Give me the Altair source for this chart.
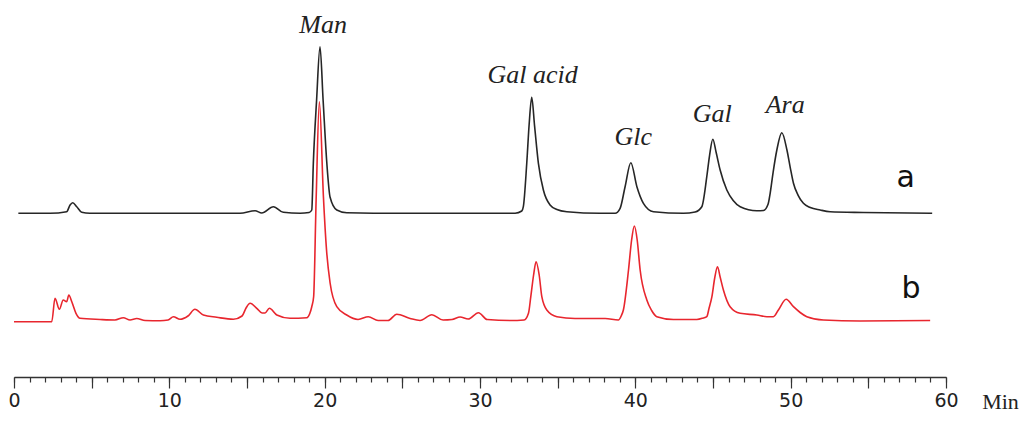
import altair as alt
import pandas as pd

# ---- trace a (black, standards) : retention time (min) and signal ----
a_time = [0.28, 2.32, 3.39, 3.61, 3.78, 4.04, 4.36, 4.89, 14.55, 15.52, 15.95, 16.70, 17.34,
          18.42, 19.00, 19.17, 19.27, 19.48, 19.70, 19.90, 20.14, 20.35, 20.78, 21.42, 24.86,
          32.26, 32.69, 32.79, 33.01, 33.16, 33.33, 33.51, 33.76, 34.08, 34.51, 34.95, 35.59, 37.73,
          38.70, 39.02, 39.34, 39.71, 40.10, 40.52, 41.17, 43.10, 43.85,
          44.28, 44.60, 44.78, 44.99, 45.20, 45.46, 45.89, 46.30, 46.75, 47.82, 48.25,
          48.55, 48.68, 48.87, 49.11, 49.43, 49.76, 49.97, 50.18, 50.48, 50.82, 51.26, 51.90,
          52.54, 54.67, 59.11]
a_signal = [0, 0, 1.6, 8.3, 10.6, 6.6, 1.0, 0, 0, 2.6, 0.3, 6.6, 1.0,
            0, 0.8, 3.3, 50, 113, 166.6, 113, 50, 16, 3.3, 0.6, 0,
            0, 2.3, 6.6, 50, 88, 116, 88, 50, 23.3, 8.3, 3.8, 1.6, 0,
            0, 5, 26.6, 50.6, 26.6, 10, 1.6, 0, 1.3,
            6.6, 36.6, 58, 74, 61, 43.3, 23.3, 12.8, 6.6, 2.6, 2.8,
            9.3, 20, 41, 63.3, 80.6, 63.3, 46, 30, 18, 10, 5.8, 3.3,
            1.6, 0.8, 0]

# ---- trace b (red, sample) ----
b_time = [0.0, 2.43, 2.64, 2.92, 3.17, 3.39, 3.53, 3.72, 3.99, 4.25, 5.54, 6.50, 7.04, 7.47,
          7.90, 8.44, 9.40, 9.92, 10.26, 10.69, 11.20, 11.65, 12.19, 13.05, 14.12, 14.68, 14.94,
          15.20, 15.63, 15.97, 16.16, 16.44, 16.92, 17.77, 18.85, 19.03, 19.17, 19.29, 19.45,
          19.66, 19.92, 20.12, 20.35, 20.78, 21.42, 22.15, 22.81, 23.44, 24.08, 24.64, 25.50,
          26.14, 26.90, 27.62, 28.20, 28.72, 29.24, 29.90, 30.46, 31.94, 32.84, 33.12, 33.27,
          33.45, 33.61, 33.81, 33.98, 34.30, 34.95, 36.12, 38.06, 38.91, 39.09, 39.23, 39.56,
          39.76, 39.94, 40.12, 40.31, 40.74, 41.05, 41.38, 42.45, 43.96, 44.37, 44.60, 44.75,
          44.93, 45.11, 45.29, 45.46, 45.67, 46.10, 46.75, 47.82, 48.47, 48.89, 49.21, 49.71,
          50.18, 50.61, 51.04, 52.11, 54.47, 58.98]
b_signal = [0, 0, 23.4, 12.4, 21.7, 20, 26.7, 20, 8.4, 3.4, 2.2, 1.7, 4, 1.7,
            3.2, 1.2, 1, 1.7, 5, 2.4, 5.7, 12.4, 6.7, 4.4, 2.4, 5.7, 13.7,
            18.4, 13.4, 8.7, 8.7, 13.4, 6.7, 3.4, 4, 7.7, 15, 25, 121.7,
            220, 125, 71.7, 38.7, 15, 6.7, 2.2, 5, 1.2, 1.2, 7.4, 3.2,
            1.2, 7, 1.7, 2.2, 4.7, 2.7, 9, 2.2, 1.2, 1.7, 8.4, 25,
            46.7, 60, 46.7, 25, 11.7, 5, 3.2, 3.2, 1.7, 5.7, 11.7, 51.7,
            81.7, 95.7, 81.7, 51.7, 21.7, 11.2, 5, 2.2, 2.2, 3.7, 5, 13.7,
            25, 43.7, 55, 44.7, 31.7, 15, 8.4, 6.7, 5, 5, 11.7, 22.4,
            15, 9.2, 5, 1.7, 0.7, 1.2]

# ---- annotations ----
peak_names = ["Man", "Gal acid", "Glc", "Gal", "Ara"]
peak_label_time = [19.9, 33.39, 39.86, 44.95, 49.65]
peak_label_level = [288.7, 238.7, 176.7, 199.7, 208.7]

trace_names = ["a", "b"]
trace_label_time = [57.4, 57.75]
trace_label_level = [134.7, 23.7]

A_OFFSET = 108.4  # vertical stacking offset of trace a

df_a = pd.DataFrame({"t": a_time, "y": [v + A_OFFSET for v in a_signal]})
df_b = pd.DataFrame({"t": b_time, "y": b_signal})
df_peaks = pd.DataFrame({"t": peak_label_time, "y": peak_label_level, "name": peak_names})
df_traces = pd.DataFrame({"t": trace_label_time, "y": trace_label_level, "name": trace_names})

x_scale = alt.Scale(domain=[0, 60], nice=False, zero=False)
y_scale = alt.Scale(domain=[-55.3, 313.7], nice=False, zero=False)

major_axis = alt.Axis(
    orient="bottom", values=list(range(0, 61, 5)), tickSize=11, tickWidth=1.2,
    tickColor="#333333", domainColor="#333333", domainWidth=1.4, grid=False,
    labelExpr="datum.value % 10 === 0 ? datum.label : ''",
    labelFont="DejaVu Sans", labelFontSize=19, labelColor="#222222", labelPadding=3,
    labelFlush=False, labelOverlap=False,
    title="Min", titleX=986, titleY=31, titleAlign="center", titleBaseline="alphabetic",
    titleAngle=0, titleFont="Liberation Serif", titleFontSize=22, titleFontWeight="normal",
    titleColor="#222222",
)
minor_axis = alt.Axis(
    orient="bottom", values=list(range(0, 61)), tickSize=5, tickWidth=1.2,
    tickColor="#333333", domain=False, labels=False, grid=False, title=None,
)

line_a = alt.Chart(df_a).mark_line(color="#262626", strokeWidth=1.6, interpolate="monotone").encode(
    x=alt.X("t:Q", scale=x_scale, axis=major_axis),
    y=alt.Y("y:Q", scale=y_scale, axis=None),
)
line_b = alt.Chart(df_b).mark_line(color="#e8262e", strokeWidth=1.6, interpolate="monotone").encode(
    x=alt.X("t:Q", scale=x_scale, axis=minor_axis),
    y=alt.Y("y:Q", scale=y_scale, axis=None),
)
peak_text = alt.Chart(df_peaks).mark_text(
    font="Liberation Serif", fontStyle="italic", fontSize=26, color="#222222",
    align="center", baseline="alphabetic",
).encode(
    x=alt.X("t:Q", scale=x_scale, axis=None),
    y=alt.Y("y:Q", scale=y_scale, axis=None),
    text="name:N",
)
trace_text = alt.Chart(df_traces).mark_text(
    font="DejaVu Sans", fontSize=30, color="#111111", align="center", baseline="alphabetic",
).encode(
    x=alt.X("t:Q", scale=x_scale, axis=None),
    y=alt.Y("y:Q", scale=y_scale, axis=None),
    text="name:N",
)

chart = alt.layer(line_a, line_b, peak_text, trace_text).resolve_axis(
    x="independent"
).properties(
    width=932, height=369,
    padding={"left": 6, "top": 0, "right": 77, "bottom": 38},
    autosize=alt.AutoSizeParams(type="none"),
    background="white",
).configure_view(stroke=None)

chart.save("out.html", embed_options={"renderer": "svg", "actions": False})
